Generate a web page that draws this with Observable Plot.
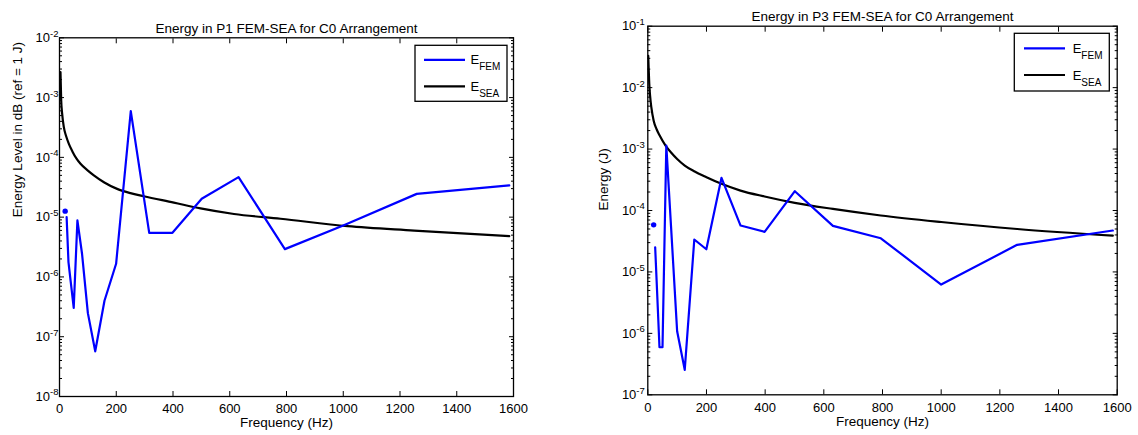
<!DOCTYPE html>
<html><head><meta charset="utf-8">
<script src="https://cdn.jsdelivr.net/npm/d3@7"></script>
<script src="https://cdn.jsdelivr.net/npm/@observablehq/plot@0.6"></script>
<style>
html,body{margin:0;padding:0;background:#fff;}
#wrap{position:relative;width:1138px;height:435px;overflow:hidden;font-family:"Liberation Sans",Arial,Helvetica,sans-serif;}
#wrap svg{position:absolute;top:0;}
</style></head><body><div id="wrap"></div>
<script>
// ---- data (1/3-octave band centre frequencies, Hz) ----
const femFreq = [25.12, 31.62, 39.81, 50.12, 63.10, 79.43, 100, 125.9, 158.5, 199.5, 251.2, 316.2, 398.1, 501.2, 631.0, 794.3, 1000, 1259, 1585];
const dotFreq = [19.95];
// P1
const femP1 = [1.0e-5, 1.77e-6, 8.1e-7, 3.04e-7, 8.8e-6, 2.44e-6, 2.48e-7, 5.7e-8, 4.0e-7, 1.66e-6, 5.93e-4, 5.47e-6, 5.47e-6, 2.03e-5, 4.67e-5, 2.92e-6, 7.26e-6, 2.45e-5, 3.39e-5];
const dotP1 = [1.26e-5];
const seaFreqP1 = [3.5, 6, 9.4, 15.3, 23.5, 33, 45, 60, 74, 100, 121, 158, 203, 250, 297, 403, 497, 615, 779, 1015, 1250, 1585];
const seaP1 = [2.67e-3, 8.9e-4, 5.35e-4, 3.2e-4, 2.25e-4, 1.68e-4, 1.27e-4, 9.5e-5, 7.8e-5, 6.0e-5, 5.0e-5, 3.8e-5, 2.97e-5, 2.52e-5, 2.24e-5, 1.75e-5, 1.40e-5, 1.13e-5, 9.4e-6, 7.06e-6, 5.97e-6, 4.8e-6];
// P3
const femP3 = [2.52e-5, 4.85e-6, 5.94e-7, 5.94e-7, 1.14e-3, 5.26e-5, 1.08e-6, 2.55e-7, 3.37e-5, 2.34e-5, 3.4e-4, 5.69e-5, 4.49e-5, 2.06e-4, 5.62e-5, 3.53e-5, 6.24e-6, 2.76e-5, 4.72e-5];
const dotP3 = [5.84e-5];
const seaFreqP3 = [1.5, 3, 5, 8, 12, 20, 30, 40, 60, 80, 100, 126, 158, 200, 251, 316, 398, 501, 631, 794, 1000, 1259, 1585];
const seaP3 = [3.3e-2, 2.0e-2, 1.15e-2, 7.2e-3, 4.8e-3, 2.9e-3, 2.1e-3, 1.68e-3, 1.15e-3, 8.7e-4, 6.9e-4, 5.4e-4, 4.36e-4, 3.48e-4, 2.72e-4, 2.11e-4, 1.69e-4, 1.33e-4, 1.06e-4, 8.3e-5, 6.5e-5, 5.0e-5, 3.9e-5];
// ticks
const xTicks = [0, 200, 400, 600, 800, 1000, 1200, 1400, 1600];
const yTicksP1 = [1e-8, 1e-7, 1e-6, 1e-5, 1e-4, 1e-3, 1e-2];
const yTicksP3 = [1e-7, 1e-6, 1e-5, 1e-4, 1e-3, 1e-2, 1e-1];
const titles = ["Energy in P1 FEM-SEA for C0 Arrangement", "Energy in P3 FEM-SEA for C0 Arrangement"];
const xLabel = "Frequency (Hz)";
const yLabels = ["Energy Level in dB (ref = 1 J)", "Energy (J)"];
const legendNames = [["E", "FEM"], ["E", "SEA"]];

const FONT = '"Liberation Sans", Arial, Helvetica, sans-serif';
const BLUE = "#0000ff";

function panel(o) {
  const fem = o.femF.map((f, i) => ({f, v: o.femV[i]}));
  const dot = o.dotF.map((f, i) => ({f, v: o.dotV[i]}));
  const sea = o.seaF.map((f, i) => ({f, v: o.seaV[i]}));
  const minor = [];
  o.yTicks.slice(0, -1).forEach(t => { for (let m = 2; m <= 9; m++) minor.push(t * m); });
  const m = o.margin;
  const svg = Plot.plot({
    width: 569, height: 435,
    marginLeft: m.l, marginRight: m.r, marginTop: m.t, marginBottom: m.b,
    x: {domain: [0, 1600]},
    y: {type: "log", domain: [o.yTicks[0], o.yTicks[o.yTicks.length - 1]]},
    style: {fontFamily: FONT, fontSize: "13px", color: "black", background: "white", overflow: "visible"},
    marks: [
      Plot.line(sea, {x: "f", y: "v", stroke: "black", strokeWidth: 2.2, curve: "monotone-x", clip: true}),
      Plot.line(fem, {x: "f", y: "v", stroke: BLUE, strokeWidth: 2.2, clip: true}),
      Plot.dot(dot, {x: "f", y: "v", r: 2.7, fill: BLUE, stroke: null}),
      Plot.frame({stroke: "black", strokeWidth: 1.3}),
      Plot.axisX({anchor: "bottom", ticks: xTicks, tickSize: -5, tickFormat: () => "", label: null}),
      Plot.axisX({anchor: "top", ticks: xTicks, tickSize: -5, tickFormat: () => "", label: null}),
      Plot.axisX({anchor: "bottom", ticks: xTicks, tickSize: 0, tickPadding: o.xPad, tickFormat: d => String(d), label: null, fontSize: 13}),
      Plot.axisY({anchor: "left", ticks: o.yTicks, tickSize: -5, tickFormat: () => "", label: null}),
      Plot.axisY({anchor: "right", ticks: o.yTicks, tickSize: -5, tickFormat: () => "", label: null}),
      Plot.axisY({anchor: "left", ticks: minor, tickSize: -3, tickFormat: () => "", label: null}),
      Plot.axisY({anchor: "right", ticks: minor, tickSize: -3, tickFormat: () => "", label: null}),
      Plot.axisY({anchor: "left", ticks: o.yTicks, tickSize: 0, tickPadding: o.yPad, tickFormat: d => "10^" + Math.round(Math.log10(d)), label: null, fontSize: 13}),
      Plot.text([o.title], {text: d => d, frameAnchor: "top", dy: o.titleDy, fontSize: 13.5}),
      Plot.text([xLabel], {text: d => d, frameAnchor: "bottom", dy: o.xLabelDy, fontSize: 13.5}),
      Plot.text([o.yLabel], {text: d => d, frameAnchor: "left", dx: o.yLabelDx, rotate: -90, fontSize: 13.5})
    ]
  });
  // superscript exponents on y tick labels
  d3.select(svg).selectAll("text").each(function() {
    const s = this.textContent;
    const mm = /^10\^(-?\d+)$/.exec(s);
    if (mm) {
      const t = d3.select(this);
      t.text("10");
      t.append("tspan").attr("dy", "-0.55em").attr("font-size", "9.5px").text(mm[1]);
    }
  });
  // legend
  const W = 569 - m.l - m.r;
  const bw = o.legend.w, bh = o.legend.h;
  const bx = m.l + W - o.legend.inset - bw, by = m.t + o.legend.top;
  const g = d3.select(svg).append("g").attr("font-family", FONT).attr("text-anchor", "start");
  g.append("rect").attr("x", bx).attr("y", by).attr("width", bw).attr("height", bh)
    .attr("fill", "white").attr("stroke", "black").attr("stroke-width", 1.3);
  const rows = [{c: BLUE, n: legendNames[0], y: by + o.legend.r1}, {c: "black", n: legendNames[1], y: by + o.legend.r2}];
  rows.forEach(r => {
    g.append("line").attr("x1", bx + o.legend.lx).attr("x2", bx + o.legend.lx + 41)
      .attr("y1", r.y).attr("y2", r.y).attr("stroke", r.c).attr("stroke-width", 2.2);
    const t = g.append("text").attr("x", bx + o.legend.tx).attr("y", r.y + 4.5)
      .attr("text-anchor", "start").attr("font-size", "13px").attr("fill", "black");
    t.append("tspan").text(r.n[0]);
    t.append("tspan").attr("dy", 6).attr("font-size", "10px").text(r.n[1]);
  });
  return svg;
}

const wrap = document.getElementById("wrap");
const s1 = panel({
  femF: femFreq, femV: femP1, dotF: dotFreq, dotV: dotP1, seaF: seaFreqP1, seaV: seaP1,
  yTicks: yTicksP1, title: titles[0], yLabel: yLabels[0],
  margin: {l: 59, r: 56, t: 37.3, b: 39},
  xPad: 7.5, yPad: 1, titleDy: -14.6, xLabelDy: 30, yLabelDx: -42,
  legend: {w: 92, h: 56, inset: 6, top: 8, r1: 14.5, r2: 41, lx: 9, tx: 55.5}
});
s1.style.left = "0px";
wrap.appendChild(s1);
const s2 = panel({
  femF: femFreq, femV: femP3, dotF: dotFreq, dotV: dotP3, seaF: seaFreqP3, seaV: seaP3,
  yTicks: yTicksP3, title: titles[1], yLabel: yLabels[1],
  margin: {l: 78.3, r: 21.3, t: 25.7, b: 40.7},
  xPad: 8.2, yPad: 3, titleDy: -15, xLabelDy: 30.7, yLabelDx: -44.6,
  legend: {w: 95, h: 57.7, inset: 7.4, top: 7.6, r1: 15, r2: 41.7, lx: 9.7, tx: 58.4}
});
s2.style.left = "569px";
wrap.appendChild(s2);
</script>
</body></html>
